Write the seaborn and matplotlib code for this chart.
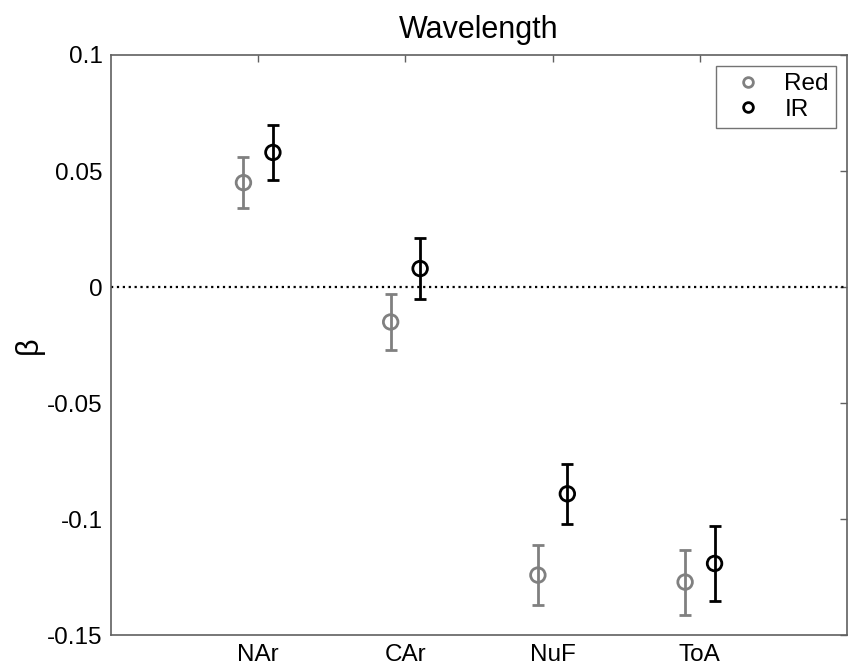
import numpy as np
import pandas as pd
import seaborn as sns
import matplotlib.pyplot as plt

# dados
categorias = ['NAr', 'CAr', 'NuF', 'ToA']
red_beta = [0.045, -0.015, -0.124, -0.127]
red_erro = [0.011, 0.012, 0.013, 0.014]
ir_beta = [0.058, 0.008, -0.089, -0.119]
ir_erro = [0.012, 0.013, 0.013, 0.016]

sns.set_style("white")
plt.rcParams['font.family'] = ['Liberation Sans', 'DejaVu Sans']
plt.rcParams['text.color'] = 'black'
plt.rcParams['axes.labelcolor'] = 'black'

dados = pd.DataFrame({
    'cat': categorias * 2,
    'beta': red_beta + ir_beta,
    'erro': red_erro + ir_erro,
    'grupo': ['Red'] * 4 + ['IR'] * 4,
})
deslocamento = {'Red': -0.1, 'IR': 0.1}
cores = {'Red': '#808080', 'IR': '#000000'}
dados['x'] = [categorias.index(c) + 1 + deslocamento[g] for c, g in zip(dados['cat'], dados['grupo'])]

fig = plt.figure(figsize=(8.49, 6.65), dpi=100)
ax = fig.add_axes([0.1307, 0.0444, 0.867, 0.873])

# linha pontilhada em zero
ax.axhline(0, color='black', linestyle=':', linewidth=1.6, zorder=1)

for g in ['Red', 'IR']:
    d = dados[dados['grupo'] == g]
    ax.errorbar(d['x'], d['beta'], yerr=d['erro'], fmt='none', ecolor=cores[g],
                elinewidth=2, capsize=4, capthick=2, zorder=2)

sns.scatterplot(data=dados, x='x', y='beta', hue='grupo', palette=cores, ax=ax,
                marker='o', s=110, linewidth=2, zorder=3, legend=False)
pontos = ax.collections[-1]
pontos.set_edgecolors([cores[gr] for gr in dados['grupo']])
pontos.set_facecolors('none')

ax.set_xlim(0, 5)
ax.set_ylim(-0.15, 0.1)
ax.set_xticks(range(1, 5))
ax.set_xticklabels(categorias)
ax.set_yticks([-0.15, -0.1, -0.05, 0, 0.05, 0.1])
ax.set_yticklabels(['-0.15', '-0.1', '-0.05', '0', '0.05', '0.1'])
ax.tick_params(direction='in', length=5, width=1, colors='#606060', labelcolor='black',
               labelsize=17.5, top=True, right=True, pad=6)
for s in ax.spines.values():
    s.set_color('#606060')
    s.set_linewidth(1.2)

ax.set_xlabel('')
ax.set_ylabel('β', fontsize=22, labelpad=2)
ax.set_title('Wavelength', fontsize=22, pad=12)

alcas = [plt.Line2D([], [], marker='o', linestyle='none', markerfacecolor='none',
                    markeredgecolor=cores[g], markeredgewidth=2, markersize=7) for g in ['Red', 'IR']]
leg = ax.legend(alcas, ['Red', 'IR'], loc='upper right', fontsize=17.5, frameon=True,
                fancybox=False, edgecolor='#505050', handletextpad=0.5, borderaxespad=0.45,
                handlelength=2.0, labelspacing=0.15, borderpad=0.3)
leg.get_frame().set_linewidth(1)

plt.savefig('out.png', dpi=100)
